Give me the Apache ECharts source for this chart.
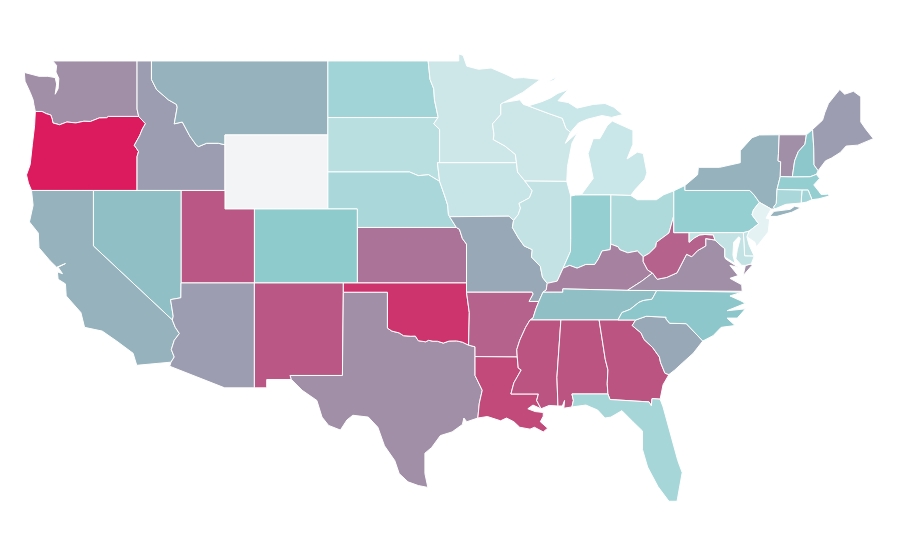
<!DOCTYPE html>
<html>
<head>
<meta charset="utf-8">
<title>USA map</title>
<script src="https://cdn.jsdelivr.net/npm/echarts@6/dist/echarts.min.js"></script>
<style>
  html, body { margin: 0; background: #fff; }
  #chart { width: 900px; height: 560px; }
</style>
</head>
<body>
<div id="chart"></div>
<script>
// values, one per state
var stateNames = ["WA","OR","ID","MT","WY","ND","SD","NE","KS","CO","UT","NV","CA","AZ","NM","TX","OK","MN","IA","MO","AR","LA","WI","IL","MI","IN","OH","KY","TN","MS","AL","GA","FL","SC","NC","VA","WV","PA","NY","VT","NH","ME","MA","RI","CT","NJ","DE","MD"];
var stateValues = [67,100,63,57,null,39,26,35,75,50,83,53,57,63,83,67,93,16,19,60,80,87,16,22,18,45,32,71,53,84,84,84,36,60,51,67,80,45,57,67,51,63,46,38,35,3,22,22];
var rampColors = ["#eaf5f7","#d3eaec","#bce0e2","#a4d5d8","#8dcbcd","#9b9fb1","#ac7398","#c24879","#dc1a5e"];

// shared borders, lon,lat
var b = {
  wa_coast: "-122.76,49 -122.5,48.75 -122.55,48.4 -122.35,48.05 -122.4,47.5 -122.6,47.2 -122.65,47.25 -122.5,47.75 -122.6,48.1 -123.1,48.17 -123.7,48.17 -124.7,48.38 -124.65,47.9 -124.3,47.3 -124.1,46.9 -124.05,46.65 -123.95,46.27",
  wa_or: "-123.95,46.27 -123.5,46.27 -123.2,46.15 -122.9,46.08 -122.8,45.85 -122.75,45.65 -122.3,45.55 -121.8,45.7 -121.2,45.65 -120.65,45.74 -120.2,45.73 -119.6,45.92 -119.1,45.93 -118.98,46 -116.92,46",
  or_id: "-116.92,46 -116.46,45.61 -116.67,45.32 -116.85,44.97 -117.22,44.44 -117.04,44.24 -116.93,44.1 -117.03,43.83 -117.03,42",
  or_coast: "-124.21,42 -124.42,42.4 -124.55,42.84 -124.3,43.4 -124.15,44.5 -124,45.5 -123.95,46.27",
  id_mt: "-116.05,49 -116.05,48 -115.7,47.45 -114.9,46.9 -114.35,46.65 -114.3,46.5 -114.5,45.6 -113.95,45.7 -113.45,44.95 -113,44.45 -112.85,44.37 -112.3,44.55 -111.5,44.55 -111.05,44.47",
  ca_coast: "-124.21,42 -124.1,41.2 -124.35,40.3 -123.75,39.7 -123.7,38.9 -122.95,38.2 -122.5,37.85 -121.9,38.05 -122.4,37.85 -122.1,37.5 -122.45,37.6 -122.4,37.2 -121.9,36.95 -121.85,36.3 -120.85,35.4 -120.6,34.6 -119.4,34.4 -118.4,33.85 -117.3,33.2 -117.05,32.55",
  ca_az: "-114.72,32.72 -114.5,33 -114.7,33.4 -114.5,33.9 -114.15,34.27 -114.43,34.6 -114.63,35",
  nv_az: "-114.63,35 -114.57,35.2 -114.75,36.1 -114.05,36.2 -114.04,37",
  red_r: "-100,34.56 -99.7,34.4 -99.2,34.3 -98.9,34.15 -98.4,34.12 -98.1,34.13 -97.9,33.88 -97.4,33.82 -97.2,33.9 -96.9,33.85 -96.6,33.85 -96.2,33.75 -95.8,33.86 -95.3,33.87 -94.9,33.8 -94.48,33.64",
  sabine: "-94.04,33.02 -94.04,32 -93.55,31.2 -93.75,30.5 -93.85,29.7",
  tx_coast: "-93.85,29.7 -94.6,29.5 -94.8,29.7 -94.9,29.35 -95.6,28.95 -96.4,28.75 -97,28.1 -97.45,27.8 -97.45,26.7 -97.25,25.95",
  rio: "-97.25,25.95 -97.9,26.05 -98.6,26.25 -99.2,26.7 -99.5,27.4 -100.2,28.2 -100.65,29.2 -101.3,29.75 -102.35,29.85 -102.75,29.6 -103.2,29.05 -104,29.3 -104.45,29.75 -104.8,30.65 -105.8,31.2 -106.53,31.78",
  ok_ar: "-94.62,36.5 -94.43,35.4 -94.48,33.64",
  mo_ks: "-94.62,39.1 -94.9,39.4 -95.1,39.9 -95.31,40",
  sd_ne: "-98.5,43 -97.9,42.8 -97.2,42.85 -96.45,42.49",
  ne_ia: "-96.45,42.49 -96.1,41.7 -95.9,41.2 -95.85,40.7 -95.77,40.58",
  ne_mo: "-95.77,40.58 -95.31,40",
  nd_mn: "-97.23,49 -97.1,48 -96.85,47.5 -96.8,46.9 -96.56,46 -96.56,45.94",
  sd_mn: "-96.56,45.94 -96.85,45.6 -96.45,45.3 -96.45,43.5",
  sd_ia: "-96.45,43.5 -96.6,43.5 -96.45,42.49",
  mn_north: "-95.15,49 -95.15,49.38 -94.85,49.3 -94.6,48.72 -93.8,48.55 -92.95,48.62 -92,48.3 -91.4,48.07 -90.75,48.1 -89.6,48 -90.8,47.3 -91.5,47 -92.1,46.75",
  mn_wi: "-92.1,46.75 -92.29,46.66 -92.29,46.1 -92.85,45.6 -92.75,45 -92.8,44.75 -92,44.4 -91.3,43.95 -91.22,43.5",
  ia_wi: "-91.22,43.5 -91.15,43 -90.65,42.51",
  ia_il: "-90.65,42.51 -90.15,41.98 -90.34,41.6 -91.05,41.3 -90.95,41.05 -91.1,40.7 -91.42,40.38",
  mo_il: "-91.42,40.38 -91.5,40 -91.1,39.45 -90.7,39 -90.15,38.8 -90.2,38.4 -89.6,37.9 -89.45,37.3 -89.13,36.98",
  mo_ky: "-89.13,36.98 -89.2,36.62",
  mo_tn: "-89.2,36.62 -89.42,36.5 -89.7,36",
  mo_ar: "-90.37,36 -90.1,36.4 -90.15,36.5",
  ar_tn: "-89.7,36 -89.9,35.6 -90.1,35.1 -90.3,35",
  ar_ms: "-90.3,35 -90.6,34.6 -91,33.9 -91.2,33.4 -91.17,33",
  la_ms: "-91.17,33 -91.1,32.4 -90.9,32.3 -91.4,31.6 -91.6,31 -89.73,31 -89.85,30.65 -89.55,30.2",
  la_coast: "-89.55,30.2 -90.1,30.4 -90.45,30.2 -89.95,30.05 -89.4,30 -89.4,29.8 -89.6,29.5 -89.1,29.15 -89.4,28.95 -90,29.2 -90.3,29.1 -91,29.2 -91.4,29.5 -91.9,29.7 -92.3,29.55 -93.2,29.78 -93.85,29.7",
  ms_coast: "-89.55,30.2 -89,30.38 -88.4,30.35",
  al_coast: "-87.45,30.3 -88,30.23 -87.95,30.65 -88.1,30.35 -88.4,30.35",
  al_ga: "-85.6,35 -85.18,32.87 -85,32.3 -85.05,31.55 -85,31",
  ga_sc: "-83.11,35 -83.35,34.7 -82.75,34.3 -82.55,33.95 -81.95,33.5 -81.5,33 -81.42,32.7 -81.12,32.12 -80.85,32.05",
  ga_coast: "-80.85,32.05 -81.25,31.5 -81.45,30.72",
  ga_fl: "-81.45,30.72 -82,30.75 -82.05,30.36 -82.2,30.57 -84.86,30.7 -85,31",
  fl_coast: "-87.45,30.3 -86.5,30.4 -85.7,30.13 -85.2,29.7 -84.8,29.75 -84.05,30.1 -83.3,29.5 -82.65,29 -82.65,28 -82.3,27.05 -81.6,26 -80.85,25.2 -80.3,25.2 -79.95,26.75 -80.25,27.4 -80.8,29 -81.25,30.3 -81.45,30.72",
  sc_nc: "-83.11,35 -82.4,35.2 -81.05,35.15 -81.05,35.05 -80.8,34.82 -79.67,34.8 -78.55,33.86",
  sc_coast: "-78.55,33.86 -79.2,33.2 -79.9,32.7 -80.45,32.3 -80.85,32.05",
  nc_coast: "-78.55,33.86 -77.85,34.15 -77.3,34.6 -76.35,34.7 -76.9,35.1 -76.2,35.1 -75.65,35.6 -76.9,35.5 -75.65,35.9 -76,36.05 -76.7,36.3 -75.9,36.5 -75.87,36.55",
  tn_nc: "-84.32,35 -84.05,35.4 -83.5,35.57 -82.9,35.95 -82.6,36.05 -82,36.12 -81.68,36.59",
  il_ky: "-89.13,36.98 -88.45,37.1 -88.05,37.8",
  in_ky: "-88.05,37.8 -87.6,37.95 -87.1,37.8 -86.5,38 -85.9,38 -85.65,38.3 -85.4,38.73 -84.85,38.8 -84.81,39.1",
  oh_ky: "-84.81,39.1 -84.3,38.95 -84.2,38.8 -83.65,38.63 -83,38.73 -82.6,38.42",
  ky_wv: "-82.6,38.42 -82.6,38.15 -82.3,37.7 -81.97,37.54",
  ky_va: "-81.97,37.54 -82.7,37.1 -83.68,36.6",
  il_in: "-87.53,39.35 -87.55,38.7 -88.05,37.8",
  oh_lake: "-83.45,41.73 -83,41.5 -82.7,41.5 -81.7,41.5 -81.2,41.77 -80.52,41.98",
  oh_wv: "-80.52,40.64 -80.85,39.7 -81.7,39.2 -81.75,38.95 -82.2,38.6 -82.6,38.42",
  pa_ny: "-75.35,42 -75.05,41.75 -74.7,41.36",
  pa_nj: "-74.7,41.36 -75.1,40.95 -75.2,40.68 -74.75,40.2 -75.4,39.8",
  md_wv: "-79.48,39.2 -79.1,39.45 -78.75,39.6 -78.4,39.62 -77.83,39.6 -77.72,39.32",
  wv_va: "-77.72,39.32 -78.35,39.4 -78.35,39 -78.9,38.75 -79.3,38.42 -79.65,38.55 -80.3,37.55 -81,37.3 -81.65,37.2 -81.97,37.54",
  md_va: "-77.05,38.4 -77.05,38.85 -77.5,39.15 -77.72,39.32",
  ny_vt: "-73.35,45.01 -73.4,44 -73.43,43.6 -73.25,43.55 -73.28,42.75",
  ct_ny: "-73.5,42.05 -73.55,41.3 -73.73,41.1 -73.65,41",
  vt_nh: "-71.5,45.01 -71.6,44.5 -72.05,44.1 -72.3,43.6 -72.46,42.73",
  nh_me: "-71.08,45.3 -71,44.3 -70.98,43.38 -70.7,43.07",
  ma_ri: "-71.38,42.02 -71.12,41.5",
  ri_ct: "-71.8,42.02 -71.86,41.32",
  wi_mi: "-87.55,45.15 -87.85,45.35 -88.1,45.9 -89,46.15 -90.42,46.57"
};

function pts(s) {
  return s.trim().split(/\s+/).map(function(p) { return p.split(",").map(Number); });
}
// "name" = border, "-name" = border reversed, anything else = points
function ring() {
  var out = [];
  for (var i = 0; i < arguments.length; i++) {
    var a = arguments[i];
    if (b[a]) out = out.concat(pts(b[a]));
    else if (a.charAt(0) == "-" && b[a.slice(1)]) out = out.concat(pts(b[a.slice(1)]).reverse());
    else out = out.concat(pts(a));
  }
  out.push(out[0]);
  return [out];
}

var shapes = {
  WA: [ring("-117.03,49", "wa_coast", "wa_or", "-117.03,46.4")],
  OR: [ring("wa_or", "or_id", "-120,42", "or_coast")],
  ID: [ring("-117.03,49", "id_mt", "-111.05,42 -114.04,42", "-or_id", "-117.03,46.4")],
  MT: [ring("id_mt", "-111.05,45 -104.05,45 -104.05,49")],
  WY: [ring("-111.05,45 -104.05,45 -104.05,41 -111.05,41")],
  ND: [ring("-104.05,49", "nd_mn", "-104.05,45.94")],
  SD: [ring("-104.05,45.94", "sd_mn", "sd_ia", "-sd_ne", "-104.05,43")],
  NE: [ring("-104.05,43", "sd_ne", "ne_ia", "ne_mo", "-102.05,40 -102.05,41 -104.05,41")],
  KS: [ring("-102.05,40 -95.31,40", "-mo_ks", "-94.62,37 -102.05,37")],
  CO: [ring("-109.05,41 -102.05,41 -102.05,37 -109.05,37")],
  UT: [ring("-114.04,42 -111.05,42 -111.05,41 -109.05,41 -109.05,37 -114.04,37")],
  NV: [ring("-120,42 -117.03,42 -114.04,42 -114.04,37", "-nv_az", "-120,39")],
  CA: [ring("-124.21,42 -120,42 -120,39 -114.63,35", "-ca_az", "-ca_coast")],
  AZ: [ring("-114.04,37 -109.05,37 -109.05,31.33 -111.07,31.33 -114.81,32.5", "ca_az", "nv_az")],
  NM: [ring("-109.05,37 -103,37 -103,36.5 -103.06,32 -106.62,32 -106.53,31.78 -108.21,31.78 -108.21,31.33 -109.05,31.33")],
  TX: [ring("-103,36.5 -100,36.5", "red_r", "-94.04,33.55", "sabine", "tx_coast", "rio", "-106.62,32 -103.06,32")],
  OK: [ring("-103,37 -94.62,37", "ok_ar", "-red_r", "-100,36.5 -103,36.5")],
  MN: [ring("nd_mn", "sd_mn", "-91.22,43.5", "-mn_wi", "-mn_north")],
  IA: [ring("-96.45,43.5 -91.22,43.5", "ia_wi", "ia_il", "-91.73,40.61 -95.77,40.58", "-ne_ia", "-sd_ia")],
  MO: [ring("-95.77,40.58 -91.73,40.61", "mo_il", "mo_ky", "mo_tn", "mo_ar", "-94.62,36.5 -94.62,37", "mo_ks", "-ne_mo")],
  AR: [ring("-94.62,36.5", "-mo_ar", "ar_tn", "ar_ms", "-94.04,33.02 -94.04,33.55", "-ok_ar")],
  LA: [ring("-94.04,33.02", "la_ms", "la_coast", "-sabine")],
  WI: [ring("mn_wi", "ia_wi", "-87.8,42.49 -87.75,43.3 -87.45,44.55 -87.05,45.15 -87.9,44.55", "wi_mi", "-90.75,46.65 -91,46.9")],
  IL: [ring("-90.65,42.51 -87.8,42.49 -87.53,41.7", "il_in", "-il_ky", "-mo_il", "-ia_il")],
  MI: [
    ring("-86.82,41.76 -84.8,41.76 -83.45,41.73 -83.15,42.05 -82.5,42.6 -82.35,42.95 -82.6,44 -83,44.07 -83.7,43.7 -83.3,44.5 -83.3,45.25 -84.7,45.75 -85.05,45.5 -85.55,44.8 -86,44.8 -86.35,44 -86,42.65 -86.6,42"),
    ring("wi_mi", "-89.5,46.8 -88.9,47 -88.4,47.25 -87.7,47.45 -88.4,46.85 -87.7,46.75 -87.1,46.45 -86,46.65 -85.2,46.7 -84.6,46.5 -84,46.1 -84.75,45.95 -85.4,46.05 -86.4,45.85 -87,45.65"),
    ring("-89.15,47.85 -88.5,48.15 -88.7,47.95")
  ],
  IN: [ring("-87.53,41.7 -87.2,41.75 -86.82,41.76 -84.8,41.76", "-in_ky", "-il_in")],
  OH: [ring("-84.8,41.76", "oh_lake", "oh_wv", "-oh_ky")],
  KY: [ring("-89.42,36.5 -88.07,36.5 -88.07,36.68 -83.68,36.6", "-ky_va", "-ky_wv", "-oh_ky", "-in_ky", "-il_ky", "mo_ky")],
  TN: [ring("ar_tn", "-84.32,35", "tn_nc", "-83.68,36.6 -88.07,36.68 -88.07,36.5 -89.42,36.5")],
  MS: [ring("-90.3,35 -88.2,35 -88.47,31.9", "-ms_coast", "-la_ms", "-ar_ms")],
  AL: [ring("-88.2,35", "al_ga", "-87.45,31 -87.35,30.65", "al_coast", "-88.47,31.9")],
  GA: [ring("al_ga", "-ga_fl", "-ga_coast", "-ga_sc")],
  FL: [ring("-87.45,31", "-ga_fl", "-fl_coast", "-87.35,30.65")],
  SC: [ring("sc_nc", "sc_coast", "-ga_sc")],
  NC: [ring("-84.32,35", "sc_nc", "nc_coast", "-81.68,36.59", "-tn_nc")],
  VA: [
    ring("-83.68,36.6 -81.68,36.59 -75.87,36.55 -75.9,36.9 -76.7,37.25 -76.15,37.4 -76.7,37.95 -76.15,37.85 -77,38.3", "md_va", "wv_va", "ky_va"),
    ring("-75.8,37.4 -75.2,37.95 -75.25,38.03 -75.65,37.95")
  ],
  WV: [ring("-80.52,40.64 -80.52,39.72 -79.48,39.72", "md_wv", "wv_va", "-ky_wv", "-oh_wv")],
  PA: [ring("-80.52,41.98 -79.76,42.27 -79.76,42", "pa_ny", "pa_nj", "-75.79,39.72 -80.52,39.72")],
  NY: [
    ring("-79.76,42.27 -78.9,42.85 -78.85,43.25 -77.4,43.25 -76,43.5 -76,44.15 -75.2,44.85 -74.7,45", "ny_vt", "ct_ny", "-73.9,41", "-pa_ny", "-79.76,42"),
    ring("-74,40.6 -73.7,40.87 -72.6,40.98 -72.3,41.15 -71.87,41.07 -72.5,40.82 -73.5,40.6")
  ],
  VT: [ring("-73.35,45.01", "vt_nh", "-73.28,42.75 -73.25,43.55 -73.43,43.6 -73.4,44")],
  NH: [ring("vt_nh", "-71.25,42.74 -70.82,42.87", "-nh_me")],
  ME: [ring("nh_me", "-70.2,43.6 -69.8,43.75 -69.2,44.05 -68.8,44.4 -68,44.45 -66.95,44.8 -67.45,45.3 -67.8,45.7 -67.8,47.07 -68.3,47.36 -68.9,47.2 -69.23,47.46 -70,46.7 -70.25,46.2 -70.4,45.8")],
  MA: [ring("-73.28,42.75 -72.46,42.73 -71.25,42.74 -70.82,42.87 -70.6,42.65 -71,42.3 -70.65,41.95 -70.5,41.78 -70.05,41.8 -70.2,42.08 -69.95,41.7 -70.65,41.55", "-ma_ri", "-71.8,42.02 -73.5,42.05")],
  RI: [ring("ma_ri", "-71.5,41.37", "-ri_ct")],
  CT: [ring("ri_ct", "-72.9,41.25", "-ct_ny")],
  NJ: [ring("-74.7,41.36 -73.9,41 -74.25,40.5 -74,40.45 -74.1,39.75 -74.9,38.95 -75,39.2 -75.55,39.5", "-pa_nj")],
  DE: [ring("-75.79,39.72 -75.7,38.46 -75.05,38.45 -75.4,39.05 -75.55,39.5 -75.4,39.8")],
  MD: [ring("-79.48,39.72 -75.79,39.72 -75.7,38.46 -75.05,38.45 -75.25,38.03 -75.65,37.95 -75.9,37.95 -76.3,38.3 -76.2,38.8 -76,39.4 -76.1,39.5 -76.45,39.2 -76.5,38.5 -76.35,38.05", "md_va", "-md_wv")]
};

var features = stateNames.map(function(name) {
  return {
    type: "Feature",
    properties: { name: name },
    geometry: { type: "MultiPolygon", coordinates: shapes[name] }
  };
});
echarts.registerMap("USA", { type: "FeatureCollection", features: features });

var myChart = echarts.init(document.getElementById("chart"));
var option = {
  animation: false,
  backgroundColor: "#fff",
  visualMap: {
    show: false,
    min: 0,
    max: 100,
    inRange: { color: rampColors }
  },
  series: [
    {
      type: "map",
      map: "USA",
      silent: true,
      roam: false,
      aspectScale: 14.7 / 18.5,
      layoutCenter: [448.8, 277.6],
      layoutSize: 849,
      label: { show: false },
      itemStyle: {
        areaColor: "#f3f4f6",
        borderColor: "#fff",
        borderWidth: 1
      },
      data: stateNames.map(function(name, i) {
        return { name: name, value: stateValues[i] };
      })
    }
  ]
};
myChart.setOption(option);
</script>
</body>
</html>
